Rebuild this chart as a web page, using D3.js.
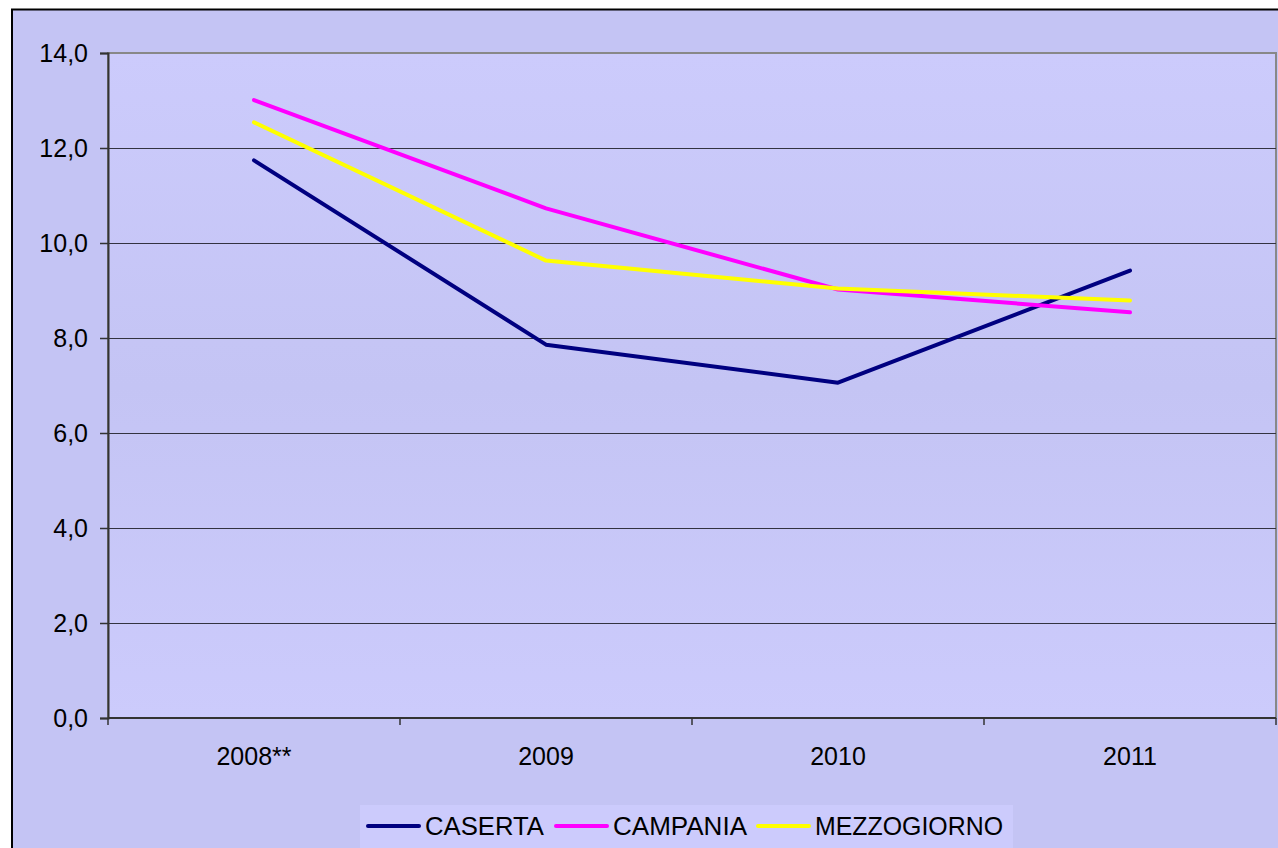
<!DOCTYPE html>
<html>
<head>
<meta charset="utf-8">
<script src="https://cdn.jsdelivr.net/npm/d3@7"></script>
<style>
  body { margin: 0; background: #fff; }
  svg text { font-family: "Liberation Sans", Arial, sans-serif; fill: #000; }
</style>
</head>
<body>
<script>
// data
var years = ['2008**', '2009', '2010', '2011'];
var caserta = [11.74, 7.86, 7.06, 9.42];
var campania = [13.01, 10.73, 9.02, 8.54];
var mezzogiorno = [12.54, 9.63, 9.04, 8.79];
var seriesNames = ['CASERTA', 'CAMPANIA', 'MEZZOGIORNO'];
var seriesColors = ['#000080', '#ff00ff', '#ffff00'];
var yTicks = [0, 2, 4, 6, 8, 10, 12, 14];

var w = 1278, h = 848;
var plot = {left: 108, right: 1276, top: 53, bottom: 718};

var svg = d3.select('body').append('svg')
  .attr('width', w)
  .attr('height', h);

var defs = svg.append('defs');
var g1 = defs.append('linearGradient').attr('id', 'plotbg')
  .attr('x1', 0).attr('y1', 0).attr('x2', 0).attr('y2', 1);
g1.append('stop').attr('offset', '0%').attr('stop-color', '#cccbfc');
g1.append('stop').attr('offset', '50%').attr('stop-color', '#c4c4f4');
g1.append('stop').attr('offset', '100%').attr('stop-color', '#cccbfc');

// chart area
svg.append('rect')
  .attr('x', 12).attr('y', 9.5)
  .attr('width', w).attr('height', h)
  .attr('fill', '#c4c4f4')
  .attr('stroke', '#000').attr('stroke-width', 2);

var x = d3.scaleBand()
  .domain(years)
  .range([plot.left, plot.right]);

var y = d3.scaleLinear()
  .domain([0, 14])
  .range([plot.bottom, plot.top]);

// plot area
svg.append('rect')
  .attr('x', plot.left).attr('y', plot.top)
  .attr('width', plot.right - plot.left)
  .attr('height', plot.bottom - plot.top)
  .attr('fill', 'url(#plotbg)')
  .attr('stroke', '#888').attr('stroke-width', 2);

// gridlines
svg.append('g').selectAll('line')
  .data(yTicks.slice(1, -1))
  .enter().append('line')
  .attr('x1', plot.left).attr('x2', plot.right)
  .attr('y1', function(d){ return Math.round(y(d)) + 0.5; })
  .attr('y2', function(d){ return Math.round(y(d)) + 0.5; })
  .attr('stroke', '#333340').attr('stroke-width', 1);

// y axis
var yAxis = svg.append('g')
  .attr('transform', 'translate(' + plot.left + ',0)')
  .call(d3.axisLeft(y).tickValues(yTicks).tickSize(8).tickPadding(12)
    .tickFormat(function(d){ return d3.format('.1f')(d).replace('.', ','); }));
yAxis.select('.domain').attr('stroke', '#333').attr('stroke-width', 2);
yAxis.selectAll('.tick line').attr('stroke', '#333').attr('stroke-width', 1.5);
yAxis.selectAll('text').attr('font-size', 25).attr('fill', '#000').attr('dy', '0.35em')
  .attr('font-family', '"Liberation Sans", Arial, sans-serif');

// x axis, ticks on category boundaries
var xAxis = svg.append('g')
  .attr('transform', 'translate(0,' + plot.bottom + ')');
xAxis.append('line')
  .attr('x1', plot.left).attr('x2', plot.right)
  .attr('stroke', '#333').attr('stroke-width', 2);
xAxis.selectAll('.tk')
  .data(years.concat(['end']))
  .enter().append('line')
  .attr('x1', function(d, i){ return i < years.length ? x(d) : x(years[years.length - 1]) + x.bandwidth(); })
  .attr('x2', function(d, i){ return i < years.length ? x(d) : x(years[years.length - 1]) + x.bandwidth(); })
  .attr('y1', 0).attr('y2', 7)
  .attr('stroke', '#333').attr('stroke-width', 1.5);
xAxis.selectAll('text')
  .data(years)
  .enter().append('text')
  .attr('x', function(d){ return x(d) + x.bandwidth() / 2; })
  .attr('y', 47)
  .attr('text-anchor', 'middle')
  .attr('font-size', 25)
  .text(function(d){ return d; });

// lines
var series = [caserta, campania, mezzogiorno];
var line = d3.line()
  .x(function(d, i){ return x(years[i]) + x.bandwidth() / 2; })
  .y(function(d){ return y(d); });

svg.append('g').selectAll('path')
  .data(series)
  .enter().append('path')
  .attr('d', line)
  .attr('fill', 'none')
  .attr('stroke', function(d, i){ return seriesColors[i]; })
  .attr('stroke-width', 4)
  .attr('stroke-linecap', 'round')
  .attr('stroke-linejoin', 'round');

// legend
var legend = svg.append('g');
legend.append('rect')
  .attr('x', 360).attr('y', 805)
  .attr('width', 653).attr('height', 60)
  .attr('fill', '#cccbfc');

var legX = [368, 556, 758];
var legW = [119, 134, 188];
var item = legend.selectAll('.item')
  .data(seriesNames)
  .enter().append('g')
  .attr('transform', function(d, i){ return 'translate(' + legX[i] + ',826)'; });
item.append('line')
  .attr('x1', 0).attr('x2', 51)
  .attr('stroke', function(d, i){ return seriesColors[i]; })
  .attr('stroke-width', 4)
  .attr('stroke-linecap', 'round');
item.append('text')
  .attr('x', 57).attr('y', 9)
  .attr('font-size', 25)
  .attr('textLength', function(d, i){ return legW[i]; })
  .attr('lengthAdjust', 'spacingAndGlyphs')
  .text(function(d){ return d; });
</script>
</body>
</html>
